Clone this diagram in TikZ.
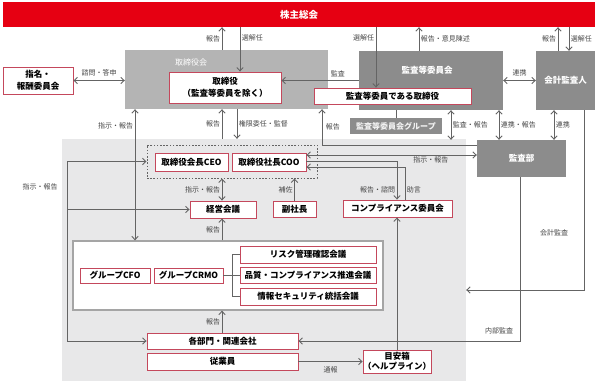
\documentclass[tikz,border=0pt]{standalone}
\usepackage{fontspec}
\setmainfont{Noto Sans CJK JP}
\usepackage{tikz}
\usetikzlibrary{arrows.meta}
\definecolor{AgmRed}{RGB}{230,0,18}
\definecolor{BoxRed}{RGB}{196,72,92}
\definecolor{BoardGray}{RGB}{180,180,180}
\definecolor{DarkGray}{RGB}{140,140,140}
\definecolor{ExecGray}{RGB}{232,232,233}
\definecolor{LineGray}{RGB}{100,100,100}
\definecolor{TextGray}{RGB}{70,70,70}
\definecolor{FrameGray}{RGB}{165,165,165}
\tikzset{
  >={Straight Barb[length=3.4pt,width=6.4pt]},
  sz/.style 2 args={minimum width=#1pt,minimum height=#2pt},
  box/.style={draw=BoxRed,line width=.9pt,fill=white,align=center,text=black,font=\fontsize{8.5}{11.5}\selectfont\bfseries,inner sep=0pt},
  darkbox/.style={fill=DarkGray,align=center,text=white,font=\fontsize{8.5}{11}\selectfont\bfseries,inner sep=0pt},
  area/.style={inner sep=0pt},
  title/.style={text=white,font=\fontsize{8.5}{11}\selectfont\bfseries,inner sep=0pt},
  note/.style={font=\fontsize{7}{8}\selectfont,text=TextGray,inner sep=1.5pt},
  flow/.style={->,line width=.9pt,draw=LineGray},
  both/.style={<->,line width=.9pt,draw=LineGray},
  link/.style={line width=.9pt,draw=LineGray}
}
\begin{document}
\begin{tikzpicture}[x=1pt,y=-1pt]
  \useasboundingbox (0,0) rectangle (604,383);
  % columns and rows used by the connectors
  \coordinate (x67) at (67,0);
  \coordinate (x135) at (135,0);
  \coordinate (x222) at (222,0);
  \coordinate (x232) at (232,0);
  \coordinate (x237) at (237,0);
  \coordinate (x240) at (240,0);
  \coordinate (x322) at (322,0);
  \coordinate (x376) at (376,0);
  \coordinate (x397) at (397,0);
  \coordinate (x405) at (405,0);
  \coordinate (x419) at (419,0);
  \coordinate (x451) at (451,0);
  \coordinate (x499) at (499,0);
  \coordinate (x520) at (520,0);
  \coordinate (x554) at (554,0);
  \coordinate (x558) at (558,0);
  \coordinate (x569) at (569,0);
  \coordinate (x584) at (584,0);
  \coordinate (y145) at (0,145);
  \coordinate (y155) at (0,155);
  \coordinate (y161) at (0,161);
  \coordinate (y167) at (0,167);
  \coordinate (y290) at (0,290);
  % areas
  \node[area,fill=ExecGray,sz={404}{242}] (exec) at (264,260) {};
  \node[area,fill=AgmRed,sz={592}{25},text=white,font=\fontsize{9.5}{11}\selectfont\bfseries] (agm) at (299,14.5) {株主総会};
  \node[area,fill=BoardGray,sz={203}{59}] (board) at (226.5,79.5) {};
  \node[title,font=\fontsize{8}{10}\selectfont] (boardlbl) at (191,62) {取締役会};
  \node[darkbox,sz={144}{59}] (acb) at (431,80.5) {};
  \node[title] (acblbl) at (427,70) {監査等委員会};
  \node[darkbox,sz={59}{59}] (auditor) at (565.5,80.5) {会計監査人};
  \node[darkbox,sz={92}{16},font=\fontsize{8}{10}\selectfont\bfseries,text=white!88!DarkGray] (acgrp) at (396,126) {監査等委員会グループ};
  \node[darkbox,sz={89}{37}] (iad) at (521.5,158.5) {監査部};
  % boxes
  \node[box,sz={70}{27}] (nomcom) at (38,80.5) {指名・\\報酬委員会};
  \node[box,sz={112}{31}] (dir) at (225,87.5) {取締役\\（監査等委員を除く）};
  \node[box,sz={157}{16}] (acdir) at (392.5,96) {監査等委員である取締役};
  \node[draw=LineGray,line width=1pt,dash pattern=on 1.6pt off 1.6pt,sz={170}{33},inner sep=0pt] (dbox) at (232,161.5) {};
  \node[box,sz={73}{18}] (ceo) at (191.5,162) {取締役会長CEO};
  \node[box,sz={74}{18}] (coo) at (269,162) {取締役社長COO};
  \node[box,sz={66}{17}] (mgmt) at (223,209.5) {経営会議};
  \node[box,sz={43}{16}] (vp) at (294.5,209) {副社長};
  \node[box,sz={109}{17}] (comp) at (397.5,208.5) {コンプライアンス委員会};
  \node[area,draw=FrameGray,line width=1.3pt,fill=white,sz={310}{69}] (grp) at (228,275.5) {};
  \node[box,sz={70}{15}] (cfo) at (115,275.5) {グループCFO};
  \node[box,sz={69}{15}] (crmo) at (188.5,275.5) {グループCRMO};
  \node[box,sz={136}{17}] (risk) at (308,254.5) {リスク管理確認会議};
  \node[box,sz={136}{16}] (quality) at (308,275) {品質・コンプライアンス推進会議};
  \node[box,sz={136}{17}] (info) at (308,296.5) {情報セキュリティ統括会議};
  \node[box,sz={151}{16}] (depts) at (222.5,341) {各部門・関連会社};
  \node[box,sz={151}{17}] (staff) at (222.5,361.5) {従業員};
  \node[box,sz={68}{23},font=\fontsize{8.5}{10.5}\selectfont\bfseries] (help) at (397,361.5) {目安箱\\（ヘルプライン）};
  % shareholders
  \draw[flow] (agm.south -| x240)--node[right,note,pos=.25]{選解任}(dir.north -| x240);
  \draw[flow] (agm.south -| x376)--node[left,note,pos=.18]{選解任}(acdir.north -| x376);
  \draw[flow] (acb.north -| x419)--node[right,note]{報告・意見陳述}(agm.south -| x419);
  \draw[flow] (auditor.north -| x558)--node[left,note]{報告}(agm.south -| x558);
  \draw[flow] (agm.south -| x569)--node[right,note]{選解任}(auditor.north -| x569);
  \draw[flow] (board.north -| x222)--node[left,note]{報告}(agm.south -| x222);
  % board level
  \draw[both] (nomcom.east)--node[above,note,yshift=2pt]{諮問・答申}(board.west |- nomcom.east);
  \draw[flow] (acb.west)--node[above,note,pos=.27,yshift=2pt]{監査}(dir.east |- acb.west);
  \draw[both] (acb.east)--node[above,note,yshift=2pt]{連携}(auditor.west |- acb.east);
  \draw[link] (acb.south -| acgrp.north)--(acgrp.north);
  \draw[both] (grp.north -| x135)--node[left,note,pos=.87]{指示・報告}(board.south -| x135);
  \draw[flow] (exec.north -| x222)--node[left,note]{報告}(board.south -| x222);
  \draw[flow] (board.south -| x237)--node[right,note]{権限委任・監督}(exec.north -| x237);
  \draw[flow] (iad.west |- y145) -| node[right,note,pos=.75,xshift=2pt]{報告} (board.south -| x322);
  \draw[both] (acb.south -| x451)--node[right,note]{監査・報告}(iad.north -| x451);
  \draw[both] (acb.south -| x499)--node[right,note]{連携・報告}(iad.north -| x499);
  \draw[both] (auditor.south -| x554)--node[right,note]{連携}(iad.north -| x554);
  % execution
  \draw[flow] (dbox.west -| x67)--(dbox.west);
  \draw[flow] (mgmt.west -| x67)--(mgmt.west);
  \draw[flow] (dbox.west -| x67) |- (depts.west);
  \node[note] (lblinst) at (40,187) {指示・報告};
  \draw[both] (dbox.south -| x222)--node[left,note]{指示・報告}(mgmt.north -| x222);
  \draw[flow] (vp.north)--node[left,note]{補佐}(vp.north |- dbox.south);
  \draw[flow] (grp.north -| x222)--node[left,note]{報告}(mgmt.south -| x222);
  \draw[flow] (depts.north -| x222)--node[left,note]{報告}(grp.south -| x222);
  \draw[both] (coo.east |- y155)--node[below,note,pos=.73]{指示・報告}(iad.west |- y155);
  \draw[flow] (coo.east |- y161) -| node[left,note,pos=.87]{報告・諮問} (comp.north -| x397);
  \draw[flow] (comp.north -| x405) |- node[right,note,pos=.15]{助言} (coo.east |- y167);
  \draw[flow] (help.north)--(help.north |- comp.south);
  \draw[flow] (staff.east)--node[below,note,yshift=-3pt]{通報}(help.west |- staff.east);
  % group meetings
  \draw[link] (crmo.east)--(x232 |- crmo.east);
  \draw[link] (risk.west) -| (x232 |- info.west)--(info.west);
  \draw[link] (x232 |- quality.west)--(quality.west);
  % audits
  \draw[flow] (iad.south -| x520) |- node[left,note,pos=.47,xshift=-5pt]{内部監査} (depts.east);
  \draw[flow] (auditor.south -| x584) |- node[left,note,pos=.34,xshift=-14pt]{会計監査} (exec.east |- y290);
\end{tikzpicture}
\end{document}
